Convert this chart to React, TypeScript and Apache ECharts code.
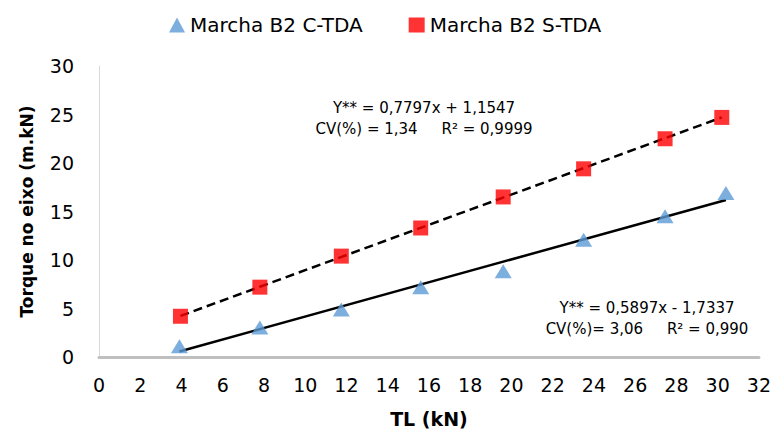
import React, { useEffect, useRef } from "react";
import * as echarts from "echarts";

const xC = [3.9, 7.8, 11.75, 15.6, 19.6, 23.5, 27.45, 30.4];
const yC = [1.1, 3.05, 4.9, 7.2, 8.85, 12.1, 14.5, 16.9];
const xS = [3.95, 7.8, 11.75, 15.6, 19.6, 23.5, 27.45, 30.2];
const yS = [4.2, 7.2, 10.4, 13.3, 16.5, 19.4, 22.5, 24.7];
const fitC = { a: 0.5897, b: -1.7337 };
const fitS = { a: 0.7797, b: 1.1547 };
const xTicks = { min: 0, max: 32, interval: 2 };
const yTicks = { min: 0, max: 30, interval: 5 };
const namesSeries = ["Marcha B2 C-TDA", "Marcha B2 S-TDA"];
const eqS = "Y** = 0,7797x + 1,1547\nCV(%) = 1,34     R² = 0,9999";
const eqC = "Y** = 0,5897x - 1,7337\nCV(%)= 3,06     R² = 0,990";

const line = (xs: number[], f: { a: number; b: number }) => {
  const x0 = Math.min(...xs);
  const x1 = Math.max(...xs);
  return [
    [x0, f.a * x0 + f.b],
    [x1, f.a * x1 + f.b],
  ];
};

export default function App() {
  const ref = useRef<HTMLDivElement>(null);
  useEffect(() => {
    const chart = echarts.init(ref.current!, null, { renderer: "svg" });
    const font = "DejaVu Sans";
    chart.setOption({
      animation: false,
      textStyle: { fontFamily: font },
      grid: { left: 99, right: 12, top: 66, bottom: 70 },
      legend: {
        top: 10,
        left: 164,
        itemGap: 46,
        itemWidth: 16,
        itemHeight: 15,
        textStyle: { fontSize: 20, color: "#000", fontFamily: font },
        data: [
          { name: namesSeries[0], icon: "triangle" },
          { name: namesSeries[1], icon: "rect" },
        ],
      },
      xAxis: {
        type: "value",
        ...xTicks,
        name: "TL (kN)",
        nameLocation: "middle",
        nameGap: 52,
        nameTextStyle: { fontSize: 19, fontWeight: "bold", color: "#000", fontFamily: font },
        axisLine: { lineStyle: { color: "#BFBFBF", width: 3 } },
        axisTick: { show: false },
        splitLine: { show: false },
        axisLabel: { fontSize: 19, color: "#000", margin: 18, fontFamily: font },
      },
      yAxis: {
        type: "value",
        ...yTicks,
        name: "Torque no eixo (m.kN)",
        nameLocation: "middle",
        nameGap: 64,
        nameTextStyle: { fontSize: 17, fontWeight: "bold", color: "#000", fontFamily: font },
        axisLine: { show: true, lineStyle: { color: "#D9D9D9", width: 1 } },
        axisTick: { show: false },
        splitLine: { show: false },
        axisLabel: { fontSize: 19, color: "#000", margin: 25, fontFamily: font },
      },
      series: [
        {
          name: "fitC",
          type: "line",
          data: line(xC, fitC),
          showSymbol: false,
          symbol: "none",
          lineStyle: { color: "#000", width: 2.5 },
          silent: true,
        },
        {
          name: "fitS",
          type: "line",
          data: line(xS, fitS),
          showSymbol: false,
          symbol: "none",
          lineStyle: { color: "#000", width: 2.5, type: [9, 5] },
          silent: true,
        },
        {
          name: namesSeries[0],
          type: "scatter",
          symbol: "triangle",
          symbolSize: [17, 14],
          itemStyle: { color: "#5B9BD5" },
          data: xC.map((x, i) => [x, yC[i]]),
          z: 3,
        },
        {
          name: namesSeries[1],
          type: "scatter",
          symbol: "rect",
          symbolSize: 15,
          itemStyle: { color: "#FF0000" },
          data: xS.map((x, i) => [x, yS[i]]),
          z: 3,
        },
      ],
      graphic: [
        {
          type: "text",
          x: 424,
          y: 97,
          style: {
            text: eqS,
            fontSize: 15,
            lineHeight: 21,
            fontFamily: font,
            fill: "#000",
            align: "center",
          },
        },
        {
          type: "text",
          x: 647,
          y: 297,
          style: {
            text: eqC,
            fontSize: 15,
            lineHeight: 21,
            fontFamily: font,
            fill: "#000",
            align: "center",
          },
        },
      ],
    });
    return () => chart.dispose();
  }, []);
  return <div ref={ref} style={{ width: 774, height: 433, position: "absolute", left: 0, top: 0 }} />;
}
